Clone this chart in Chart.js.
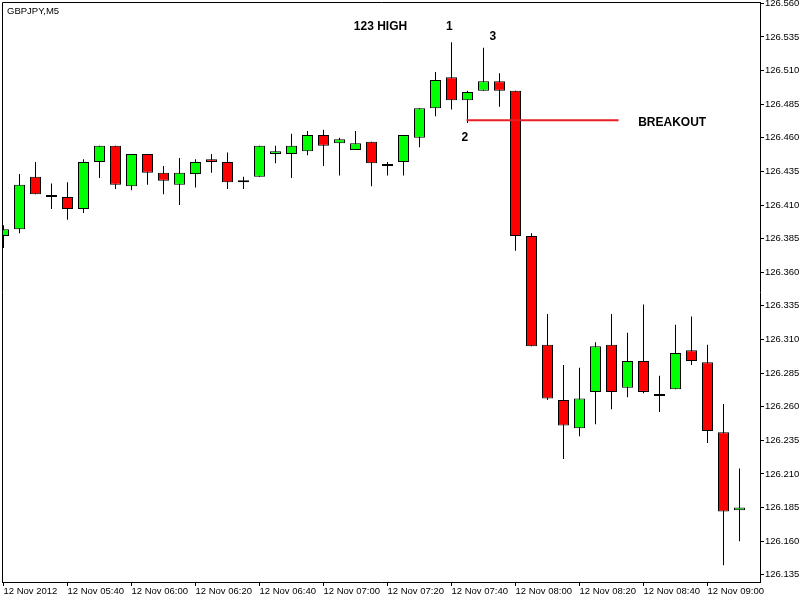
<!DOCTYPE html>
<html>
<head>
<meta charset="utf-8">
<script src="https://cdn.jsdelivr.net/npm/chart.js@4/dist/chart.umd.min.js"></script>
<style>
  html, body { margin: 0; padding: 0; background: #fff; }
  #wrap { width: 803px; height: 600px; }
</style>
</head>
<body>
<div id="wrap"><canvas id="chart" width="803" height="600"></canvas></div>
<script>
// GBPJPY M5, 12 Nov 2012 05:20 .. 09:10
const times = ["05:20","05:25","05:30","05:35","05:40","05:45","05:50","05:55",
  "06:00","06:05","06:10","06:15","06:20","06:25","06:30","06:35",
  "06:40","06:45","06:50","06:55","07:00","07:05","07:10","07:15",
  "07:20","07:25","07:30","07:35","07:40","07:45","07:50","07:55",
  "08:00","08:05","08:10","08:15","08:20","08:25","08:30","08:35",
  "08:40","08:45","08:50","08:55","09:00","09:05","09:10"];

const open = [126.387,126.392,126.431,126.416,126.416,126.407,126.442,126.454,
  126.424,126.448,126.434,126.425,126.433,126.444,126.442,126.427,
  126.431,126.448,126.448,126.450,126.462,126.456,126.451,126.457,
  126.439,126.442,126.460,126.482,126.505,126.488,126.495,126.502,
  126.495,126.387,126.306,126.265,126.244,126.271,126.306,126.274,
  126.294,126.268,126.273,126.302,126.293,126.241,126.183];
const high = [126.395,126.433,126.442,126.426,126.427,126.444,126.454,126.454,
  126.448,126.448,126.439,126.445,126.444,126.448,126.449,126.431,
  126.454,126.454,126.463,126.465,126.466,126.460,126.465,126.457,
  126.442,126.462,126.482,126.509,126.531,126.495,126.527,126.508,
  126.495,126.389,126.329,126.291,126.289,126.308,126.329,126.315,
  126.336,126.283,126.321,126.327,126.306,126.262,126.214];
const low = [126.378,126.389,126.418,126.407,126.399,126.404,126.430,126.422,
  126.421,126.425,126.418,126.410,126.423,126.434,126.422,126.422,
  126.431,126.441,126.430,126.447,126.439,126.432,126.451,126.424,
  126.432,126.432,126.453,126.476,126.481,126.471,126.495,126.483,
  126.376,126.305,126.265,126.221,126.238,126.247,126.258,126.267,
  126.270,126.256,126.273,126.291,126.233,126.142,126.160];
const close = [126.392,126.425,126.418,126.416,126.407,126.442,126.454,126.425,
  126.448,126.434,126.428,126.434,126.442,126.442,126.427,126.427,
  126.454,126.450,126.454,126.462,126.454,126.459,126.456,126.441,
  126.439,126.462,126.482,126.503,126.488,126.494,126.502,126.495,
  126.387,126.305,126.266,126.246,126.266,126.305,126.271,126.294,
  126.271,126.268,126.300,126.294,126.242,126.182,126.185];

// axis ticks
const xTickIndex = [0, 4, 8, 12, 16, 20, 24, 28, 32, 36, 40, 44];
const xTickLabels = ["12 Nov 2012","12 Nov 05:40","12 Nov 06:00","12 Nov 06:20",
  "12 Nov 06:40","12 Nov 07:00","12 Nov 07:20","12 Nov 07:40","12 Nov 08:00",
  "12 Nov 08:20","12 Nov 08:40","12 Nov 09:00"];
const yTicks = [126.135,126.160,126.185,126.210,126.235,126.260,126.285,126.310,
  126.335,126.360,126.385,126.410,126.435,126.460,126.485,126.510,126.535,126.560];

// annotations (bar index, price)
const breakoutLevel = 126.473;
const breakoutFrom = 28.94;
const breakoutTo = 38.44;
const noteText = ["123 HIGH", "1", "3", "2", "BREAKOUT"];
const noteX = [23.56, 27.86, 30.58, 28.83, 41.79];
const notePrice = [126.543, 126.543, 126.535, 126.460, 126.471];

const bodyColors = open.map((o, i) =>
  close[i] > o ? "#00ff00" : close[i] < o ? "#ff0000" : "#000000");

const overlay = {
  id: "overlay",
  afterDraw(chart) {
    const { ctx, chartArea: a, scales } = chart;
    ctx.save();
    // frame on left and top
    ctx.strokeStyle = "#000";
    ctx.lineWidth = 1;
    ctx.beginPath();
    ctx.moveTo(a.left + 0.5, a.bottom);
    ctx.lineTo(a.left + 0.5, a.top + 0.5);
    ctx.lineTo(a.right, a.top + 0.5);
    ctx.stroke();

    ctx.fillStyle = "#000";
    ctx.font = "9.5px 'Liberation Sans', Arial, sans-serif";
    ctx.textAlign = "left";
    ctx.textBaseline = "middle";
    ctx.fillText("GBPJPY,M5", a.left + 5, a.top + 9);

    ctx.font = "bold 12px 'Liberation Sans', Arial, sans-serif";
    ctx.textAlign = "center";
    noteText.forEach((t, i) => {
      ctx.fillText(t, scales.x.getPixelForValue(noteX[i]),
        scales.y.getPixelForValue(notePrice[i]));
    });
    ctx.restore();
  },
};

const ctx = document.getElementById("chart").getContext("2d");
new Chart(ctx, {
  type: "bar",
  data: {
    datasets: [
      {
        label: "body",
        data: times.map((t, i) => ({ x: i, y: [open[i], close[i]] })),
        backgroundColor: bodyColors,
        borderColor: "#000",
        borderWidth: 1,
        borderSkipped: false,
        inflateAmount: 0,
        barThickness: 11,
        minBarLength: 2,
        grouped: false,
        order: 0,
      },
      {
        label: "wick",
        data: times.map((t, i) => ({ x: i, y: [low[i], high[i]] })),
        backgroundColor: "#000",
        borderWidth: 0,
        inflateAmount: 0,
        barThickness: 1,
        grouped: false,
        order: 1,
      },
      {
        type: "line",
        label: "breakout",
        data: [
          { x: breakoutFrom, y: breakoutLevel },
          { x: breakoutTo, y: breakoutLevel },
        ],
        borderColor: "rgb(230,32,38)",
        borderWidth: 2,
        pointRadius: 0,
        order: -1,
      },
    ],
  },
  options: {
    responsive: false,
    animation: false,
    events: [],
    layout: { padding: { top: 2, left: 2, right: 0, bottom: 0 } },
    plugins: { legend: { display: false }, tooltip: { enabled: false } },
    scales: {
      x: {
        type: "linear",
        position: "bottom",
        min: -0.09375,
        max: 47.28125,
        offset: false,
        afterBuildTicks: (s) => { s.ticks = xTickIndex.map((v) => ({ value: v })); },
        afterFit: (s) => { s.height = 18; s.paddingLeft = 0; s.paddingRight = 0; },
        border: { display: true, color: "#000", width: 1 },
        grid: { display: true, drawOnChartArea: false, drawTicks: true, tickLength: 4, color: "#000", offset: false },
        ticks: {
          autoSkip: false,
          maxRotation: 0,
          align: "start",
          padding: 0,
          color: "#000",
          font: { family: "'Liberation Sans', Arial, sans-serif", size: 9.5 },
          callback: (v, i) => xTickLabels[i],
        },
      },
      y: {
        type: "linear",
        position: "right",
        min: 126.1296,
        max: 126.561,
        afterBuildTicks: (s) => { s.ticks = yTicks.map((v) => ({ value: v })); },
        afterFit: (s) => { s.width = 43; s.paddingTop = 0; s.paddingBottom = 0; },
        border: { display: true, color: "#000", width: 1 },
        grid: { display: true, drawOnChartArea: false, drawTicks: true, tickLength: 4, color: "#000" },
        ticks: {
          padding: 1,
          color: "#000",
          font: { family: "'Liberation Sans', Arial, sans-serif", size: 9.5 },
          callback: (v) => Number(v).toFixed(3),
        },
      },
    },
  },
  plugins: [overlay],
});
</script>
</body>
</html>
